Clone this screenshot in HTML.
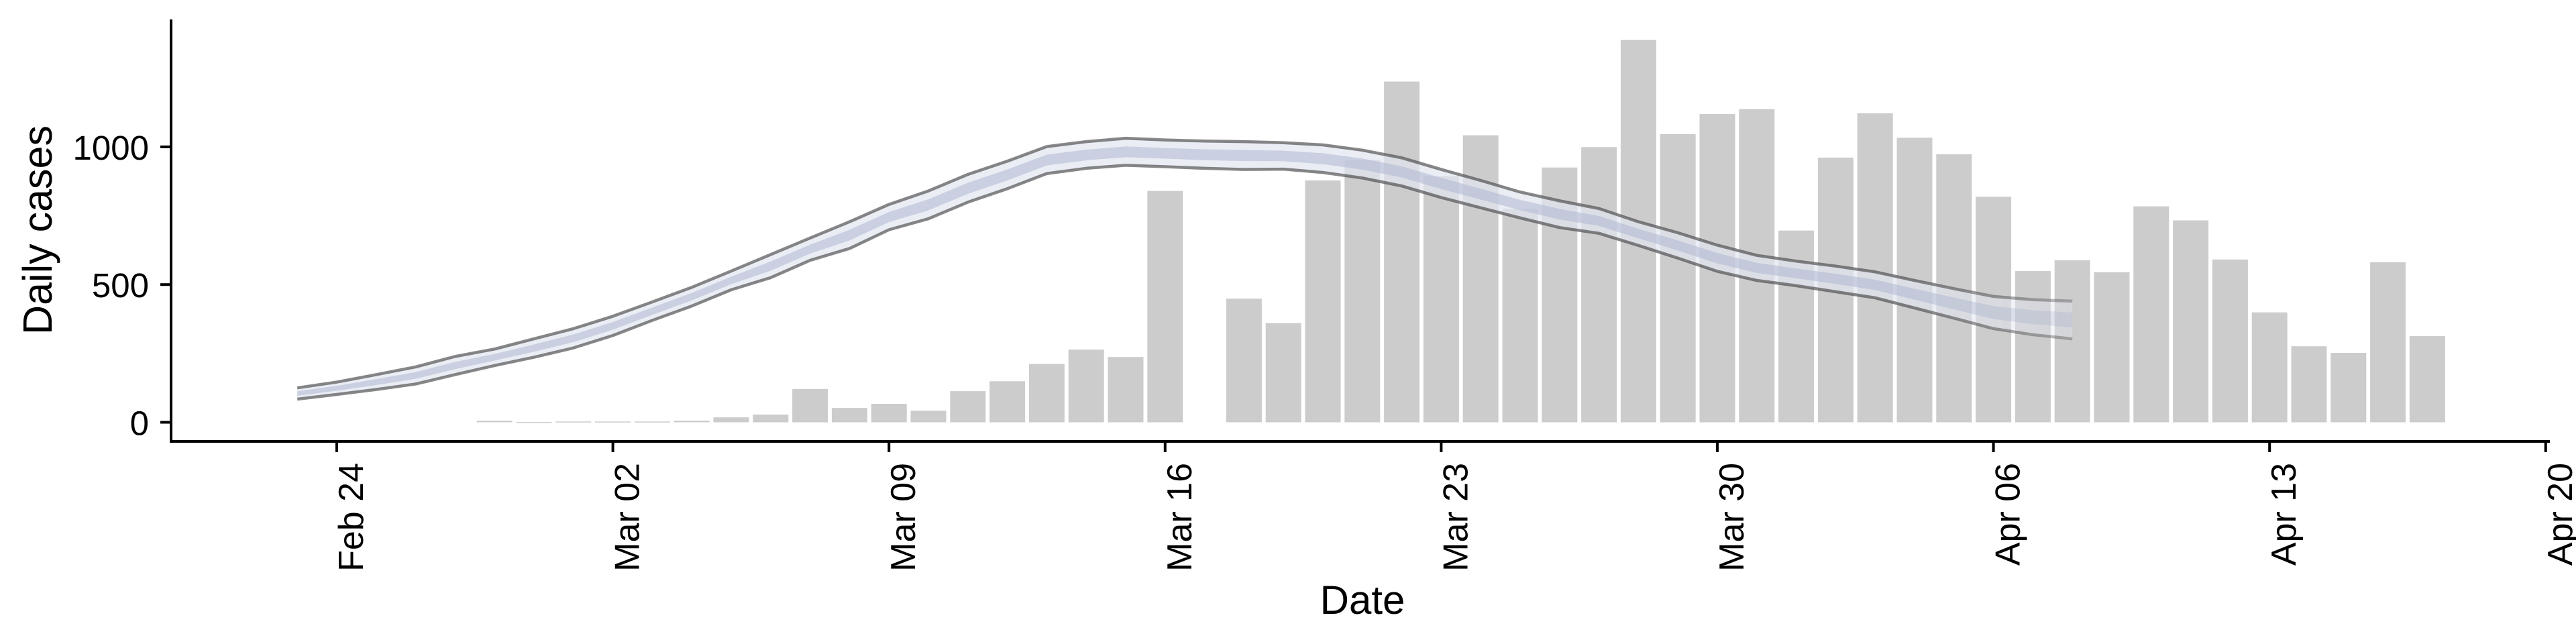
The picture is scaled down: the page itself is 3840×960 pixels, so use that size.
<!DOCTYPE html>
<html><head><meta charset="utf-8">
<style>
html,body{margin:0;padding:0;background:#fff;}
svg{display:block;font-family:"Liberation Sans",Arial,sans-serif;}
</style></head>
<body>
<svg id="chart" width="3840" height="960" viewBox="0 0 3840 960" xmlns="http://www.w3.org/2000/svg">
<defs>
<linearGradient id="fadeGrad" x1="0" x2="1" y1="0" y2="0" gradientUnits="userSpaceOnUse">
</linearGradient>
<mask id="fadeMask" maskUnits="userSpaceOnUse" x="0" y="0" width="3840" height="960">
<rect x="0" y="0" width="3840" height="960" fill="url(#fadeGrad)"/>
</mask>
</defs>
<g id="bars"></g>
<g id="ribbon" mask="url(#fadeMask)"></g>
<g id="axes"></g>
</svg>
<script>
// ---- data ----
const startDate = "2020-02-23";
const barDays = [5,6,7,8,9,10,11,12,13,14,15,16,17,18,19,20,21,22,24,25,26,27,28,29,30,31,32,33,34,35,36,37,38,39,40,41,42,43,44,45,46,47,48,49,50,51,52,53,54];
const barValues = [6,1,3,3,3,6,18,28,121,52,67,42,113,149,212,264,237,840,449,360,878,952,1237,893,1042,775,925,999,1388,1046,1119,1137,696,961,1122,1033,973,819,549,588,545,784,733,591,399,276,252,581,313];
const curveDays = [0,1,2,3,4,5,6,7,8,9,10,11,12,13,14,15,16,17,18,19,20,21,22,23,24,25,26,27,28,29,30,31,32,33,34,35,36,37,38,39,40,41,42,43,44,45];
const upperValues = [125,146,173,201,239,266,303,340,385,437,490,549,609,669,728,791,840,900,948,1001,1019,1031,1025,1021,1019,1015,1007,988,960,918,878,836,804,776,728,688,643,606,585,567,546,515,485,457,445,440];
const lowerValues = [84,101,119,139,173,206,236,270,315,370,422,481,525,588,631,699,739,799,848,903,922,933,928,922,918,919,907,887,858,816,779,742,707,686,642,596,548,515,496,474,452,415,378,340,318,303];
const yTicks = [0,500,1000];
const xTickDays = [1,8,15,22,29,36,43,50,57];
const xTickLabels = ["Feb 24","Mar 02","Mar 09","Mar 16","Mar 23","Mar 30","Apr 06","Apr 13","Apr 20"];

// ---- scales ----
const X0 = 443.2, DAY = 58.8;
const Y0 = 629.5, PER = 205.3/500;
const xs = d => X0 + d*DAY;
const ys = v => Y0 - v*PER;
const NS = "http://www.w3.org/2000/svg";
function mk(tag, attrs, parent){const e=document.createElementNS(NS,tag);for(const k in attrs)e.setAttribute(k,attrs[k]);parent.appendChild(e);return e;}

// fade gradient for tail of nowcast
const fg = document.getElementById('fadeGrad');
fg.setAttribute('x1', xs(41)); fg.setAttribute('x2', xs(45));
mk('stop',{offset:'0','stop-color':'#fff'},fg);
mk('stop',{offset:'1','stop-color':'#888'},fg);

// bars
const gb = document.getElementById('bars');
const bw = 53;
barDays.forEach((d,i)=>{
  const v = barValues[i];
  const r = mk('rect',{x:xs(d)-bw/2,y:ys(v),width:bw,height:Math.max(ys(0)-ys(v),1.5),fill:'#cccccc'},gb);
  
  
});

// ribbon
const gr = document.getElementById('ribbon');
function bandPath(fracLo, fracHi){
  const top=[],bot=[];
  curveDays.forEach((d,i)=>{
    const lo=lowerValues[i], hi=upperValues[i], w=hi-lo;
    top.push(xs(d)+','+ys(lo+w*fracHi));
    bot.push(xs(d)+','+ys(lo+w*fracLo));
  });
  return 'M'+top.join(' L')+' L'+bot.reverse().join(' L')+' Z';
}
const outer = mk('path',{d:bandPath(0,1),fill:'rgba(225,229,240,0.7)'},gr);


const inner = mk('path',{d:bandPath(0.3,0.7),fill:'rgba(176,186,210,0.55)'},gr);


function linePath(arr){return 'M'+curveDays.map((d,i)=>xs(d)+','+ys(arr[i])).join(' L');}
const up = mk('path',{d:linePath(upperValues),fill:'none',stroke:'rgba(70,70,70,0.65)','stroke-width':4.5,'stroke-linejoin':'round'},gr);


const lw = mk('path',{d:linePath(lowerValues),fill:'none',stroke:'rgba(70,70,70,0.65)','stroke-width':4.5,'stroke-linejoin':'round'},gr);



// axes
const ga = document.getElementById('axes');
const ya = mk('line',{x1:255,y1:29,x2:255,y2:660,stroke:'#000','stroke-width':4},ga);


const xa = mk('line',{x1:253,y1:658,x2:3801,y2:658,stroke:'#000','stroke-width':4},ga);


yTicks.forEach(v=>{
  const t = mk('line',{x1:239,y1:ys(v),x2:255,y2:ys(v),stroke:'#000','stroke-width':4},ga);
  
  
  const l = mk('text',{x:222,y:ys(v)+19,'text-anchor':'end','font-size':51,fill:'#000'},ga);
  l.textContent = v;
  
  
});
xTickDays.forEach((d,i)=>{
  const x = xs(d);
  const t = mk('line',{x1:x,y1:658,x2:x,y2:674,stroke:'#000','stroke-width':4},ga);
  
  
  const l = mk('text',{x:0,y:0,'text-anchor':'end','font-size':52,fill:'#000',transform:'translate('+(x+39)+',690) rotate(-90)'},ga);
  l.textContent = xTickLabels[i];
  
  
});
const yt = mk('text',{x:0,y:0,'text-anchor':'middle','font-size':61,fill:'#000',transform:'translate(77,343) rotate(-90)'},ga);
yt.textContent = 'Daily cases';


const xt = mk('text',{x:2031,y:915,'text-anchor':'middle','font-size':60,fill:'#000'},ga);
xt.textContent = 'Date';


</script>
</body></html>
